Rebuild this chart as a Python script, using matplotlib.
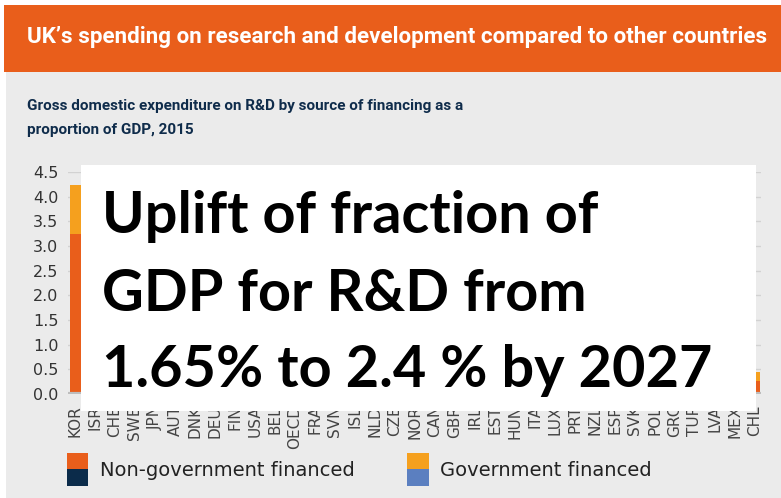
import matplotlib
matplotlib.use("Agg")
import matplotlib.pyplot as plt
from matplotlib.patches import Rectangle
import numpy as np

# ---- data ----
countries = ["KOR", "ISR", "CHE", "SWE", "JPN", "AUT", "DNK", "DEU", "FIN", "USA",
             "BEL", "OECD", "FRA", "SVN", "ISL", "NLD", "CZE", "NOR", "CAN", "GBR",
             "IRL", "EST", "HUN", "ITA", "LUX", "PRT", "NZL", "ESP", "SVK", "POL",
             "GRC", "TUR", "LVA", "MEX", "CHL"]
non_gov = [3.24, 3.70, 2.55, 2.50, 2.75, 2.09, 2.15, 2.08, 2.03, 2.10,
           1.92, 1.75, 1.48, 1.75, 1.28, 1.34, 1.20, 0.97, 1.11, 1.17,
           0.92, 0.85, 0.85, 0.80, 0.71, 0.69, 0.73, 0.67, 0.50, 0.61,
           0.53, 0.57, 0.39, 0.11, 0.26]
gov = [0.99, 0.45, 0.85, 0.78, 0.53, 0.96, 0.81, 0.84, 0.87, 0.69,
       0.55, 0.63, 0.79, 0.45, 0.91, 0.67, 0.73, 0.96, 0.58, 0.48,
       0.28, 0.65, 0.51, 0.54, 0.59, 0.55, 0.54, 0.55, 0.68, 0.39,
       0.43, 0.31, 0.24, 0.44, 0.18]
yticks = [0.0, 0.5, 1.0, 1.5, 2.0, 2.5, 3.0, 3.5, 4.0, 4.5]

title = "UK\u2019s spending on research and development compared to other countries"
subtitle = "Gross domestic expenditure on R&D by source of financing as a\nproportion of GDP, 2015"
overlay_lines = ["Uplift of fraction of", "GDP for R&D from", "1.65% to 2.4 % by 2027"]
legend_labels = ["Non-government financed", "Government financed"]

ORANGE = "#E95E1B"
AMBER = "#F5A01E"
NAVY = "#0B2B4A"
BLUE = "#5B7FC0"
GREY_BG = "#EBEBEB"

W, H = 781, 498
fig = plt.figure(figsize=(W / 100, H / 100), dpi=100)
fig.patch.set_facecolor("white")


def fx(x):
    return x / W


def fy(y):
    return 1 - y / H


def px_rect(x0, y0, x1, y1, color, z):
    r = Rectangle((fx(x0), fy(y1)), fx(x1) - fx(x0), fy(y0) - fy(y1),
                  transform=fig.transFigure, facecolor=color, edgecolor="none",
                  zorder=z)
    fig.add_artist(r)
    return r


# backgrounds
px_rect(6, 72, W, H, GREY_BG, -10)
px_rect(4, 5, W, 72, ORANGE, -9)

fig.text(fx(27), fy(37), title, color="white", fontsize=16.1,
         fontweight="bold", family="Roboto", ha="left", va="center", zorder=2)
fig.text(fx(27), fy(118), subtitle, color="#0F2C4B", fontsize=11,
         fontweight="bold", family="Roboto", ha="left", va="center",
         linespacing=1.85, zorder=2)

# axes
x0_px, x1_px, ytop_px, ybot_px = 68, 761, 172, 394
ax = fig.add_axes([fx(x0_px), fy(ybot_px), fx(x1_px) - fx(x0_px),
                   fy(ytop_px) - fy(ybot_px)])
ax.set_facecolor("none")
x = np.arange(len(countries))
ax.bar(x, non_gov, width=0.55, color=ORANGE, zorder=2)
ax.bar(x, gov, width=0.55, bottom=non_gov, color=AMBER, zorder=2)
ax.set_ylim(0, 4.5)
ax.set_xlim(-0.35, 34.3)
ax.set_yticks(yticks)
ax.set_yticklabels([f"{v:.1f}" for v in yticks])
ax.set_xticks(x)
ax.set_xticklabels(countries, rotation=90)
for v in yticks[1:]:
    ax.axhline(v, color="#D2D2D2", lw=1, zorder=1)
ax.axhline(0, color="#BDBDBD", lw=3, zorder=3)
for s in ax.spines.values():
    s.set_visible(False)
ax.tick_params(axis="y", length=0, pad=7, labelsize=11.5, labelcolor="#333333")
ax.tick_params(axis="x", length=0, pad=8, labelsize=11, labelcolor="#444444")

# legend
px_rect(67, 453, 88, 469, ORANGE, 2)
px_rect(67, 469, 88, 486, NAVY, 2)
fig.text(fx(100), fy(470), legend_labels[0], fontsize=14, color="#222222",
         ha="left", va="center")
px_rect(407, 453, 429, 469, AMBER, 2)
px_rect(407, 469, 429, 486, BLUE, 2)
fig.text(fx(440), fy(470), legend_labels[1], fontsize=14, color="#222222",
         ha="left", va="center")

# white overlay box with message
px_rect(81, 165, 756, 411, "white", 5)
baselines = [233, 311, 387]
for line, b in zip(overlay_lines, baselines):
    fig.text(fx(102), fy(b), line, fontsize=41.5, fontweight="bold", family="Lato",
             color="black", ha="left", va="baseline", zorder=6)

fig.savefig("out.png", dpi=100)
